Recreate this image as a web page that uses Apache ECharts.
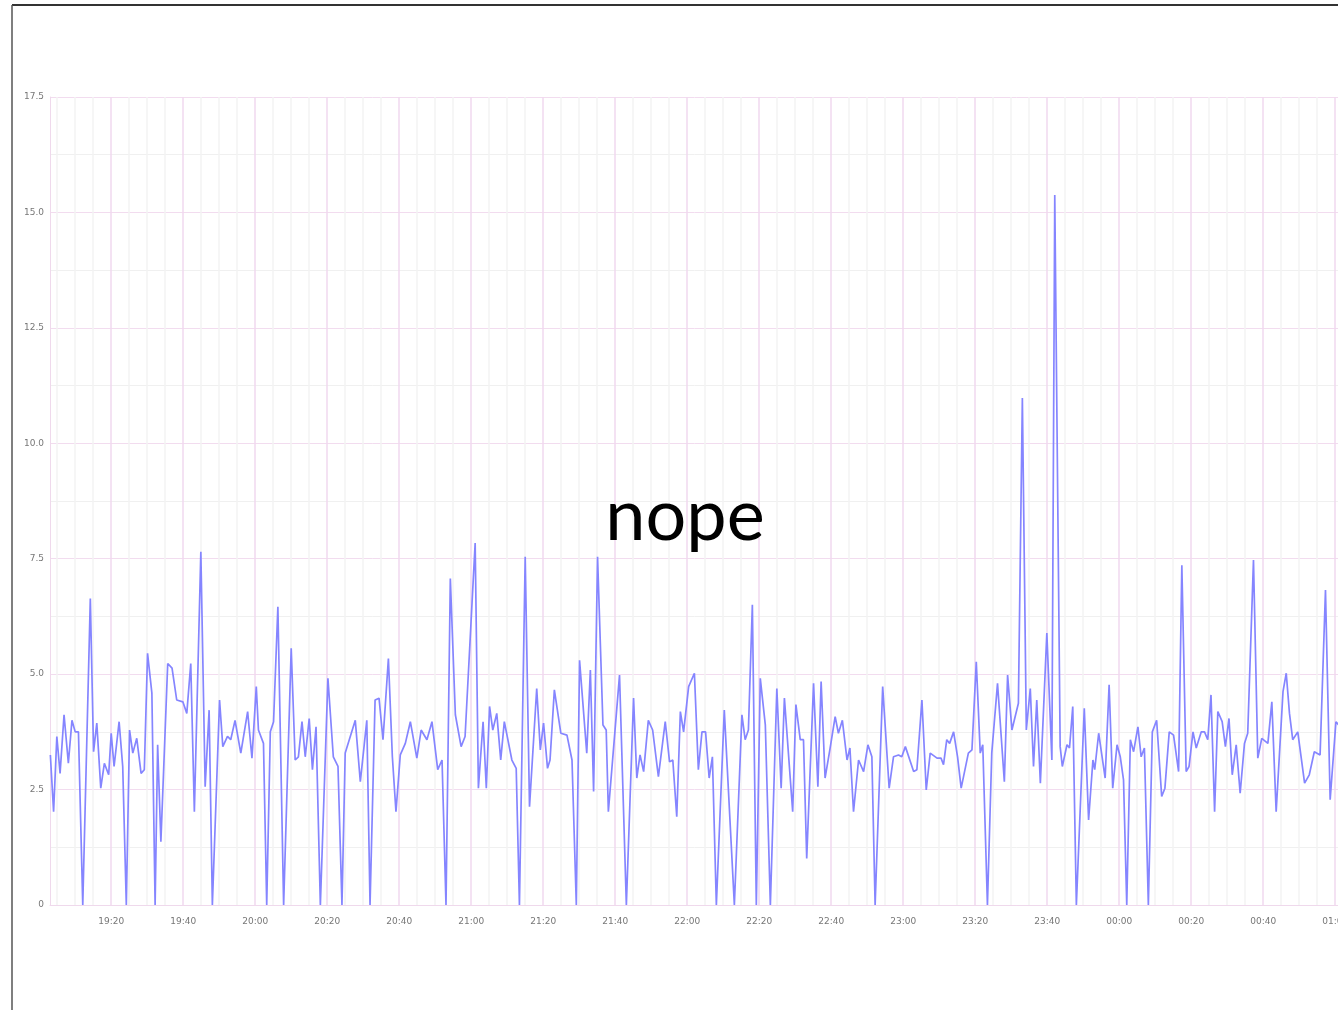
<!DOCTYPE html>
<html>
<head>
<meta charset="utf-8">
<script src="https://cdn.jsdelivr.net/npm/echarts@6/dist/echarts.min.js"></script>
<style>
  html, body { margin: 0; padding: 0; background: #fff; }
  #chart { width: 1338px; height: 1010px; }
</style>
</head>
<body>
<div id="chart"></div>
<script>
// minutes since 19:00 and the value at that moment
const minutes = [
  3.1, 4.0, 4.9, 5.8, 6.9, 8.1, 9.1, 10.0, 10.9, 12.1, 14.2, 15.1, 16.0, 17.1, 18.1, 19.3,
  20.0, 20.8, 22.2, 23.2, 24.2, 25.1, 26.0, 27.1, 28.3, 29.2, 30.1, 31.3, 32.2, 32.9, 33.8,
  35.7, 36.9, 38.2, 39.9, 41.0, 42.1, 43.1, 44.9, 46.1, 47.2, 48.1, 50.1, 51.0, 52.3, 53.2,
  54.4, 56.0, 57.9, 59.1, 60.3, 60.9, 62.3, 63.2, 64.2, 65.1, 66.3, 67.9, 70.0, 71.1, 72.0,
  73.0, 73.9, 75.0, 75.9, 76.9, 78.1, 80.2, 81.7, 83.0, 84.1, 85.0, 87.8, 89.2, 91.0, 91.9,
  93.3, 94.4, 95.5, 97.0, 98.1, 99.1, 100.3, 101.7, 103.1, 104.9, 106.1, 107.7, 109.1, 110.7,
  111.9, 113.0, 114.2, 115.6, 117.2, 118.3, 121.1, 122.0, 123.3, 124.2, 125.1, 126.0, 127.1,
  128.2, 129.2, 131.3, 132.5, 133.4, 135.0, 136.2, 138.2, 139.2, 140.1, 141.2, 141.9, 143.1,
  144.9, 146.6, 148.0, 149.2, 150.1, 152.1, 153.1, 154.0, 155.1, 156.6, 157.5, 158.1, 161.2,
  163.1, 165.1, 166.0, 166.9, 167.9, 169.2, 170.4, 172.0, 173.9, 175.1, 176.0, 177.1, 178.1,
  179.0, 180.4, 182.0, 183.1, 184.1, 185.1, 186.1, 187.0, 188.1, 190.3, 193.1, 195.2, 196.1,
  197.0, 198.1, 199.2, 200.3, 201.7, 203.1, 204.9, 206.1, 207.0, 209.3, 210.2, 211.4, 212.3,
  213.2, 215.1, 216.3, 217.2, 218.3, 219.7, 221.1, 222.0, 223.1, 224.4, 225.2, 226.2, 227.6,
  229.0, 230.2, 231.3, 232.2, 234.3, 236.1, 237.3, 238.7, 239.6, 240.6, 242.9, 243.8, 245.2,
  246.4, 247.5, 249.4, 250.5, 251.2, 252.1, 252.9, 254.0, 255.1, 256.1, 258.1, 259.1, 260.3,
  261.4, 262.1, 263.4, 264.6, 266.2, 268.1, 269.0, 270.2, 272.0, 273.1, 274.2, 275.3, 276.2,
  277.1, 278.1, 279.9, 281.3, 282.1, 283.6, 284.2, 285.5, 286.2, 287.1, 288.1, 290.3, 291.5,
  292.7, 293.2, 294.3, 296.1, 297.2, 298.2, 299.4, 300.3, 301.2, 302.1, 303.1, 304.0, 305.2,
  306.1, 307.0, 308.1, 309.2, 310.4, 311.8, 312.7, 313.9, 315.1, 316.5, 317.4, 318.6, 319.4,
  320.5, 321.4, 322.8, 323.7, 324.6, 325.5, 326.5, 327.4, 328.6, 329.5, 330.5, 331.4, 332.5,
  333.6, 334.8, 335.7, 337.3, 338.5, 339.6, 341.3, 342.4, 343.6, 345.5, 346.4, 347.3, 348.2,
  349.6, 351.5, 352.8, 354.2, 355.8, 357.3, 358.6, 360.2, 361.5
];
const values = [
  3.25, 2.02, 3.65, 2.85, 4.12, 3.07, 4.0, 3.75, 3.75, 0, 6.64, 3.32, 3.94, 2.53, 3.07, 2.82,
  3.72, 3.0, 3.97, 3.0, 0, 3.79, 3.29, 3.61, 2.85, 2.93, 5.45, 4.59, 0, 3.47, 1.37,
  5.23, 5.13, 4.44, 4.4, 4.15, 5.23, 2.02, 7.65, 2.56, 4.22, 0, 4.44, 3.43, 3.65, 3.58,
  4.0, 3.29, 4.19, 3.18, 4.73, 3.79, 3.5, 0, 3.75, 3.97, 6.46, 0, 5.56, 3.14, 3.21,
  3.97, 3.21, 4.04, 2.93, 3.86, 0, 4.91, 3.21, 3.0, 0, 3.29, 4.0, 2.67, 4.0, 0,
  4.44, 4.48, 3.58, 5.34, 3.21, 2.02, 3.25, 3.5, 3.97, 3.18, 3.79, 3.58, 3.97, 2.93,
  3.14, 0, 7.07, 4.12, 3.43, 3.65, 7.84, 2.53, 3.97, 2.53, 4.3, 3.79, 4.15,
  3.14, 3.97, 3.14, 2.96, 0, 7.54, 2.13, 4.69, 3.36, 3.94, 2.96, 3.14, 4.66,
  3.72, 3.68, 3.14, 0, 5.3, 3.29, 5.09, 2.46, 7.54, 3.9, 3.79, 2.02, 4.98,
  0, 4.48, 2.75, 3.25, 2.89, 4.0, 3.79, 2.78, 3.97, 3.1, 3.14, 1.91, 4.19,
  3.75, 4.73, 5.02, 2.93, 3.75, 3.75, 2.75, 3.21, 0, 4.22, 0, 4.12, 3.58,
  3.79, 6.5, 0, 4.91, 3.9, 0, 4.69, 2.53, 4.48, 2.02, 4.34, 3.58, 3.58,
  1.01, 4.8, 2.56, 4.84, 2.75, 3.4, 4.08, 3.72, 4.0, 3.14, 3.4, 2.02, 3.14,
  2.89, 3.47, 3.21, 0, 4.73, 2.53, 3.21, 3.25, 3.21, 3.43, 2.89, 2.93, 4.44,
  2.49, 3.29, 3.18, 3.18, 3.04, 3.58, 3.5, 3.75, 3.21, 2.53, 3.29, 3.36, 5.27,
  3.29, 3.47, 0, 3.29, 4.8, 2.67, 4.98, 3.79, 4.37, 10.98, 3.79, 4.69, 3.0,
  4.44, 2.64, 5.89, 3.14, 15.38, 3.43, 3.0, 3.47, 3.4, 4.3, 0, 4.26, 1.84,
  3.14, 2.93, 3.72, 2.75, 4.77, 2.53, 3.47, 3.21, 2.71, 0, 3.58, 3.32, 3.86,
  3.21, 3.4, 0, 3.75, 4.0, 2.35, 2.53, 3.75, 3.68, 2.89, 7.36, 2.89, 3.0,
  3.75, 3.4, 3.75, 3.75, 3.58, 4.55, 2.02, 4.19, 3.97, 3.43, 4.04, 2.82, 3.47,
  2.42, 3.5, 3.72, 7.47, 3.18, 3.61, 3.5, 4.4, 2.02, 4.62, 5.02, 4.15, 3.58,
  3.75, 2.64, 2.82, 3.32, 3.25, 6.82, 2.28, 3.97, 3.85
];
// time labels every 20 minutes (19:20 ... 01:00), grid lines every 5 minutes
const labelMinutes = [20, 40, 60, 80, 100, 120, 140, 160, 180, 200, 220, 240, 260, 280, 300, 320, 340, 360];
const gridMinutes = [];
for (let m = 5; m <= 365; m += 5) gridMinutes.push(m);

const xMin = 3, xMax = 367;
const pxPerMinute = 3.6;

const pad = (n) => (n < 10 ? '0' : '') + n;
const clock = (v) => {
  const m = Math.round(v);
  return pad((19 + Math.floor(m / 60)) % 24) + ':' + pad(m % 60);
};

const chart = echarts.init(document.getElementById('chart'));

const option = {
  animation: false,
  backgroundColor: '#fff',
  grid: {
    left: 50,
    top: 97,
    height: 808,
    width: (xMax - xMin) * pxPerMinute,
    outerBoundsMode: 'none',
    containLabel: false
  },
  xAxis: {
    type: 'value',
    min: xMin,
    max: xMax,
    axisLine: { show: true, lineStyle: { color: '#efd9ec', width: 1 } },
    axisTick: { show: false },
    splitLine: { show: false },
    axisLabel: {
      customValues: labelMinutes,
      formatter: clock,
      color: '#777',
      fontSize: 9,
      fontFamily: 'DejaVu Sans',
      margin: 12,
      hideOverlap: false
    }
  },
  yAxis: {
    type: 'value',
    min: 0,
    max: 17.5,
    interval: 2.5,
    axisLine: { show: true, lineStyle: { color: '#efd9ec', width: 1 } },
    axisTick: { show: false },
    minorTick: { show: false, splitNumber: 2 },
    axisLabel: {
      color: '#777',
      fontSize: 9,
      fontFamily: 'DejaVu Sans',
      margin: 6,
      formatter: (v) => (v === 0 ? '0' : v.toFixed(1))
    },
    splitLine: { show: true, lineStyle: { color: '#f2dcef', width: 1 } },
    minorSplitLine: { show: true, lineStyle: { color: '#f0f0f0', width: 1 } }
  },
  graphic: [
    { type: 'line', shape: { x1: 12, y1: 5, x2: 1338, y2: 5 }, style: { stroke: '#333', lineWidth: 2 } },
    { type: 'line', shape: { x1: 12, y1: 5, x2: 12, y2: 1010 }, style: { stroke: '#555', lineWidth: 1.5 } },
    {
      type: 'text',
      x: 685,
      y: 517,
      z: 100,
      style: {
        text: 'nope',
        font: '72px Lato',
        fill: '#000',
        align: 'center',
        verticalAlign: 'middle',
        textAlign: 'center',
        textVerticalAlign: 'middle'
      }
    }
  ],
  series: [
    {
      name: 'grid',
      type: 'line',
      data: [],
      silent: true,
      markLine: {
        silent: true,
        z: 1,
        symbol: 'none',
        label: { show: false },
        data: gridMinutes.map((m) => ({
          xAxis: m,
          lineStyle: {
            type: 'solid',
            width: 1.5,
            color: m % 20 === 0 ? '#f1d9ef' : '#f3f3f3'
          }
        }))
      }
    },
    {
      name: 'value',
      type: 'line',
      z: 3,
      showSymbol: false,
      symbol: 'none',
      data: minutes.map((m, i) => [m, values[i]]),
      lineStyle: { color: '#8585ff', width: 1.7 }
    }
  ]
};

chart.setOption(option);
</script>
</body>
</html>
